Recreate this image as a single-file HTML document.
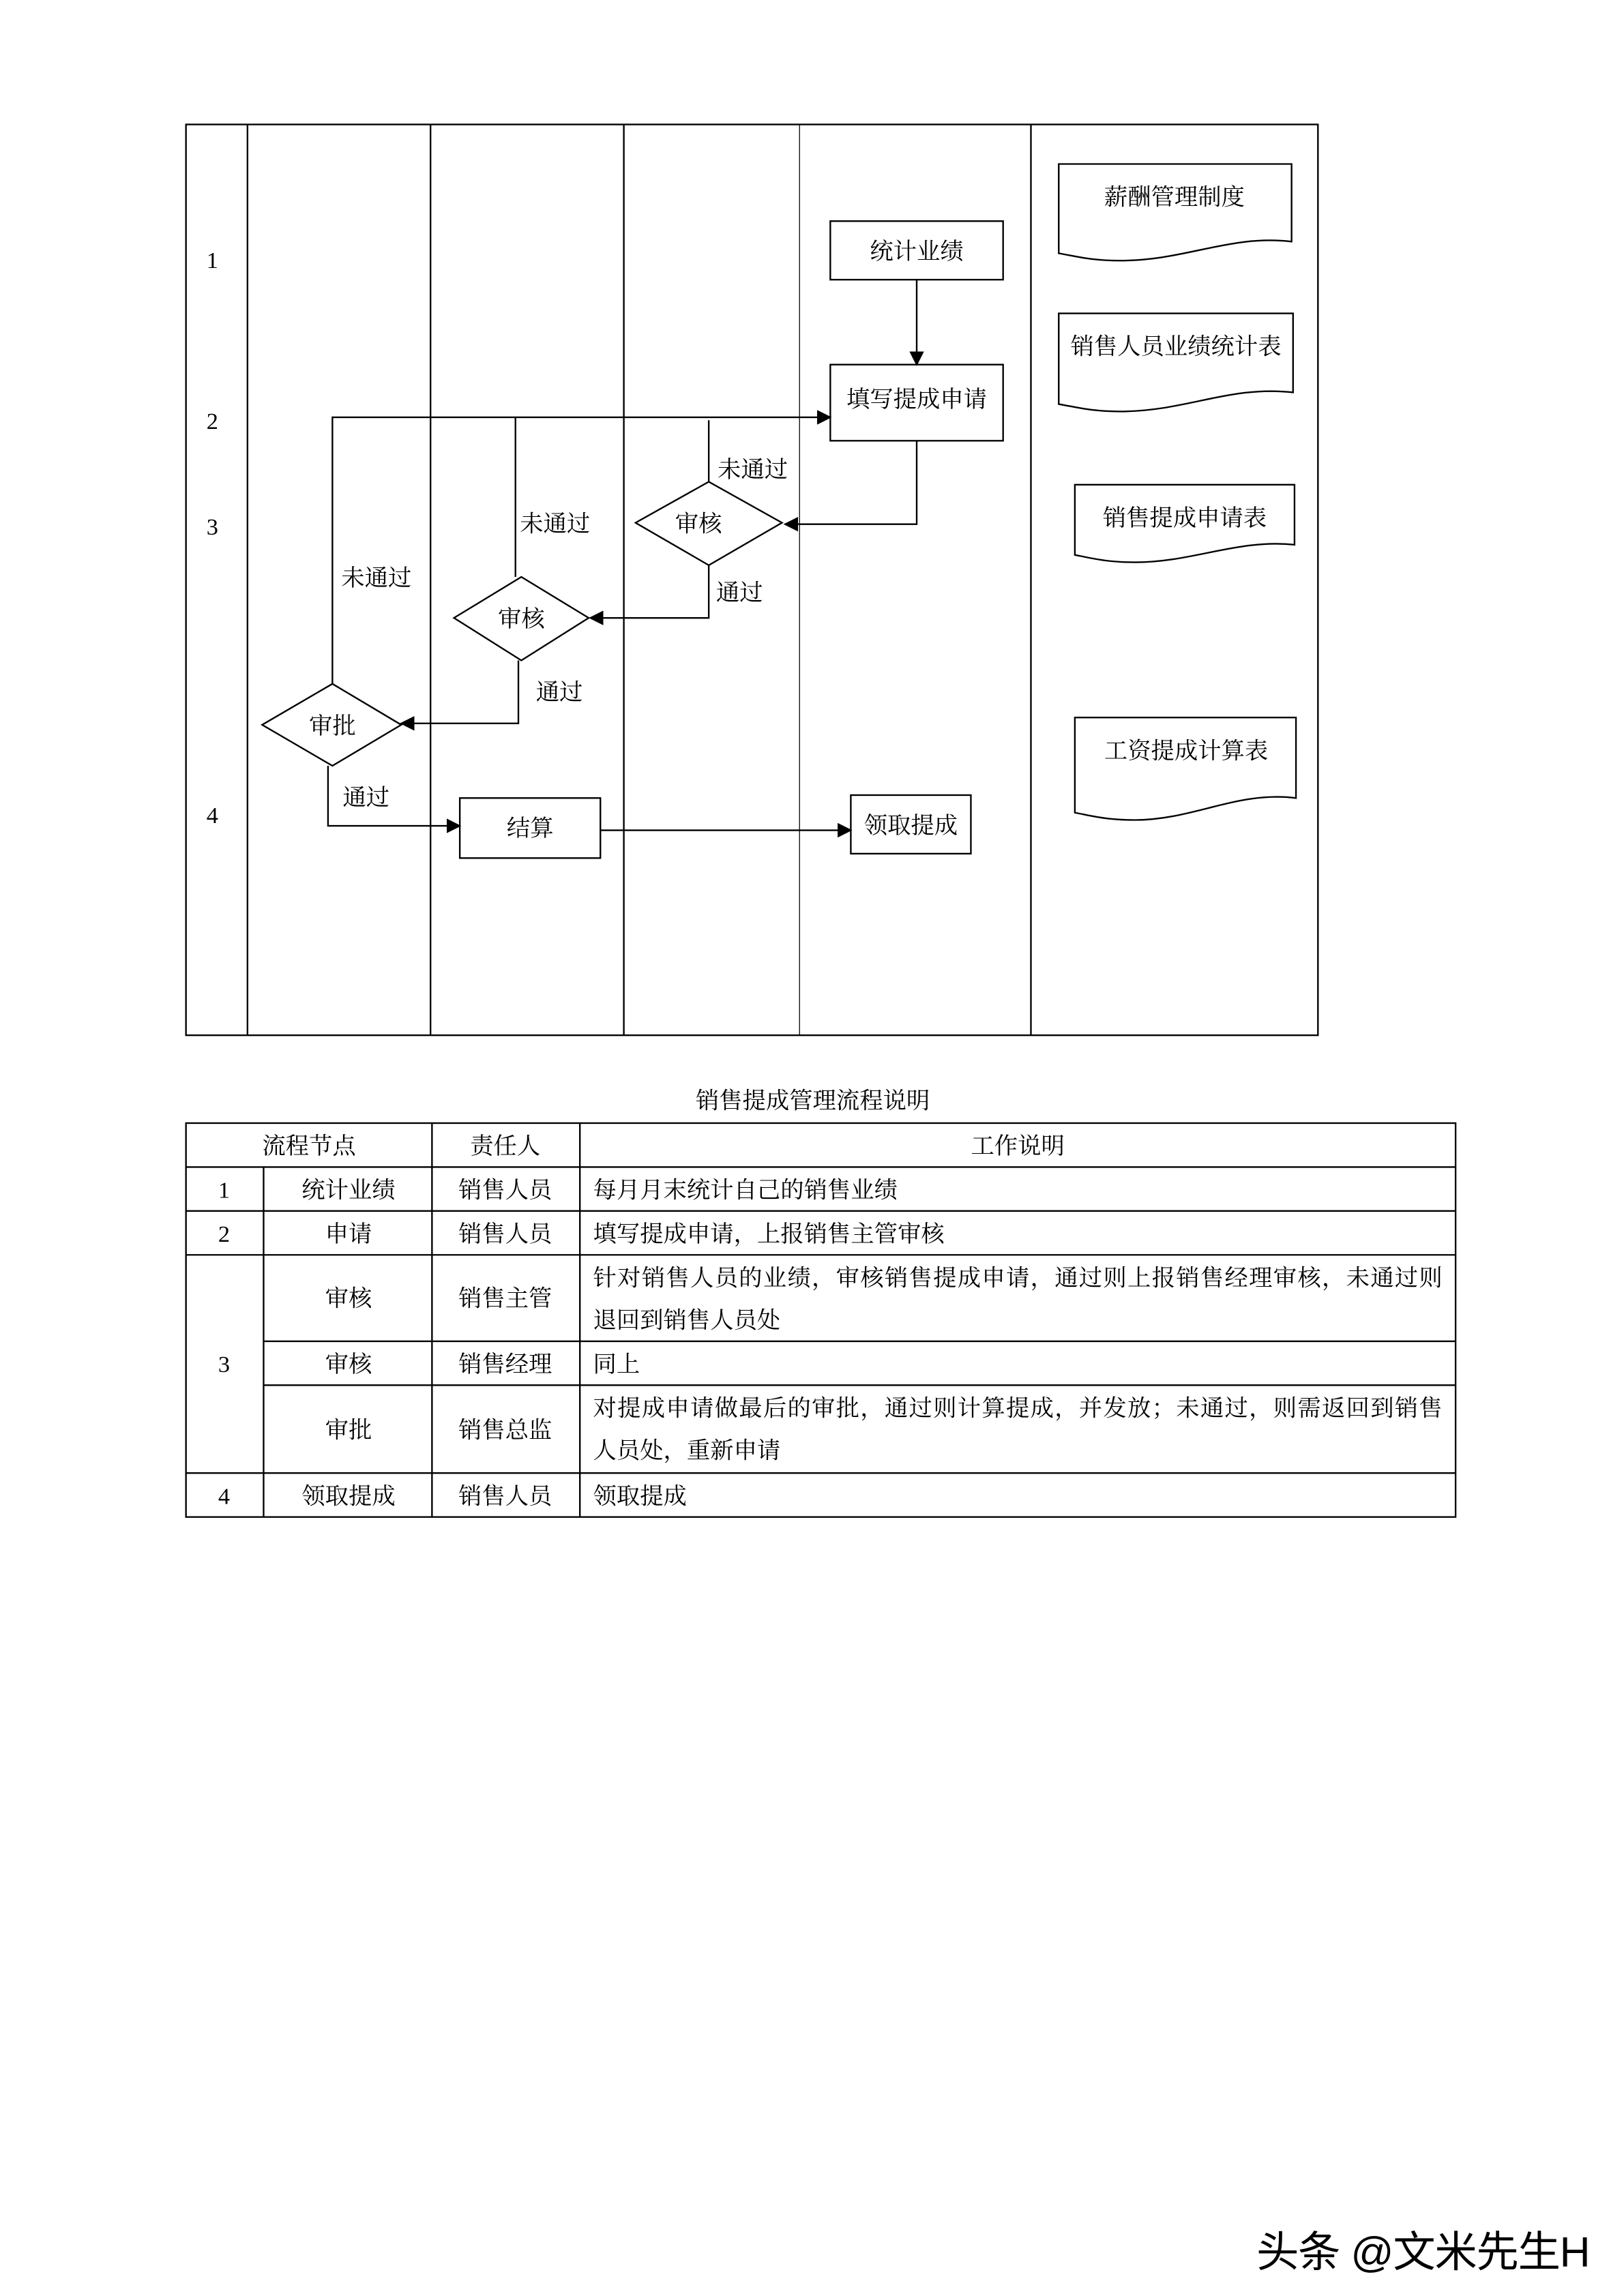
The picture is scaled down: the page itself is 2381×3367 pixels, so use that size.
<!DOCTYPE html>
<html><head><meta charset="utf-8"><style>
html,body{margin:0;padding:0;background:#fff;}
svg{display:block;}
text{font-family:"Liberation Serif","Noto Serif CJK SC",serif;fill:#000;}
</style></head><body>
<svg width="2381" height="3367" viewBox="0 0 1109 1568" preserveAspectRatio="none" xmlns="http://www.w3.org/2000/svg">
<defs><marker id="a" markerWidth="10" markerHeight="10" refX="9" refY="5" orient="auto" markerUnits="userSpaceOnUse"><path d="M0,0 L10,5 L0,10 z" fill="#000"/></marker></defs>
<g stroke="#000" stroke-width="1.1" fill="none">
<rect x="127" y="85" width="773" height="622"/>
<line x1="169" y1="85" x2="169" y2="707"/><line x1="294" y1="85" x2="294" y2="707"/>
<line x1="426" y1="85" x2="426" y2="707"/><line x1="546" y1="85" x2="546" y2="707" stroke-width="0.6"/>
<line x1="704" y1="85" x2="704" y2="707"/>
<rect x="567" y="151" width="118" height="40"/>
<rect x="567" y="249" width="118" height="52"/>
<line x1="626" y1="191" x2="626" y2="249" marker-end="url(#a)"/>
<polyline points="626,301 626,358 536,358" marker-end="url(#a)"/>
<polygon points="434,357 484,329 534,357 484,386" fill="#fff"/>
<line x1="484" y1="329" x2="484" y2="287"/>
<polyline points="227,467 227,285 567,285" marker-end="url(#a)"/>
<line x1="352" y1="394" x2="352" y2="285"/>
<polyline points="484,386 484,422 403,422" marker-end="url(#a)"/>
<polygon points="310,422 356,394 402,422 356,451" fill="#fff"/>
<polyline points="354,451 354,494 274,494" marker-end="url(#a)"/>
<polygon points="179,495 227,467 274,495 227,523" fill="#fff"/>
<polyline points="224,523 224,564 314,564" marker-end="url(#a)"/>
<rect x="314" y="545" width="96" height="41"/>
<line x1="410" y1="567" x2="581" y2="567" marker-end="url(#a)"/>
<rect x="581" y="543" width="82" height="40"/>
<path d="M723,112 L882,112 L882,165 C840,160 810,178 765,178 C745,178 735,175 723,173 Z"/>
<path d="M723,214 L883,214 L883,268 C840,263 810,281 765,281 C745,281 735,278 723,276 Z"/>
<path d="M734,331 L884,331 L884,372 C845,368 815,384 775,384 C755,384 745,381 734,379 Z"/>
<path d="M734,490 L885,490 L885,545 C845,540 815,560 775,560 C755,560 745,557 734,555 Z"/>
</g>
<g font-size="16" text-anchor="middle">
<text x="145" y="183">1</text><text x="145" y="293">2</text><text x="145" y="365">3</text><text x="145" y="562">4</text>
<text x="626" y="177">统计业绩</text><text x="626" y="278">填写提成申请</text>
<text x="477" y="363">审核</text><text x="356" y="428">审核</text><text x="227" y="501">审批</text>
<text x="362" y="571">结算</text><text x="622" y="569">领取提成</text>
<text x="514" y="326">未通过</text><text x="379" y="363">未通过</text><text x="257" y="400">未通过</text>
<text x="505" y="410">通过</text><text x="382" y="478">通过</text><text x="250" y="550">通过</text>
<text x="802" y="140">薪酬管理制度</text><text x="803" y="242">销售人员业绩统计表</text>
<text x="809" y="359">销售提成申请表</text><text x="810" y="518">工资提成计算表</text>
<text x="555" y="757">销售提成管理流程说明</text>
</g>
<g stroke="#000" stroke-width="1.1" fill="none">
<rect x="127" y="767" width="867" height="269"/>
<line x1="127" y1="797" x2="994" y2="797"/><line x1="127" y1="827" x2="994" y2="827"/>
<line x1="127" y1="857" x2="994" y2="857"/><line x1="180" y1="916" x2="994" y2="916"/>
<line x1="180" y1="946" x2="994" y2="946"/><line x1="127" y1="1006" x2="994" y2="1006"/>
<line x1="180" y1="797" x2="180" y2="1036"/><line x1="295" y1="767" x2="295" y2="1036"/>
<line x1="396" y1="767" x2="396" y2="1036"/>
</g>
<g font-size="16" text-anchor="middle">
<text x="211" y="788">流程节点</text><text x="345" y="788">责任人</text><text x="695" y="788">工作说明</text>
<text x="153" y="818">1</text><text x="238" y="818">统计业绩</text><text x="345" y="818">销售人员</text>
<text x="153" y="848">2</text><text x="238" y="848">申请</text><text x="345" y="848">销售人员</text>
<text x="153" y="937">3</text><text x="238" y="892">审核</text><text x="345" y="892">销售主管</text>
<text x="238" y="937">审核</text><text x="345" y="937">销售经理</text>
<text x="238" y="982">审批</text><text x="345" y="982">销售总监</text>
<text x="153" y="1027">4</text><text x="238" y="1027">领取提成</text><text x="345" y="1027">销售人员</text>
</g>
<g font-size="16">
<text x="405" y="818">每月月末统计自己的销售业绩</text>
<text x="405" y="848">填写提成申请，上报销售主管审核</text>
<text x="405" y="878" textLength="580">针对销售人员的业绩，审核销售提成申请，通过则上报销售经理审核，未通过则</text>
<text x="405" y="907">退回到销售人员处</text>
<text x="405" y="937">同上</text>
<text x="405" y="967" textLength="580">对提成申请做最后的审批，通过则计算提成，并发放；未通过，则需返回到销售</text>
<text x="405" y="996">人员处，重新申请</text>
<text x="405" y="1027">领取提成</text>
</g>
<text x="858" y="1548" font-size="29" textLength="228" style="font-family:'Liberation Sans','Noto Sans CJK SC',sans-serif">头条 @文米先生H</text>
</svg>
</body></html>
